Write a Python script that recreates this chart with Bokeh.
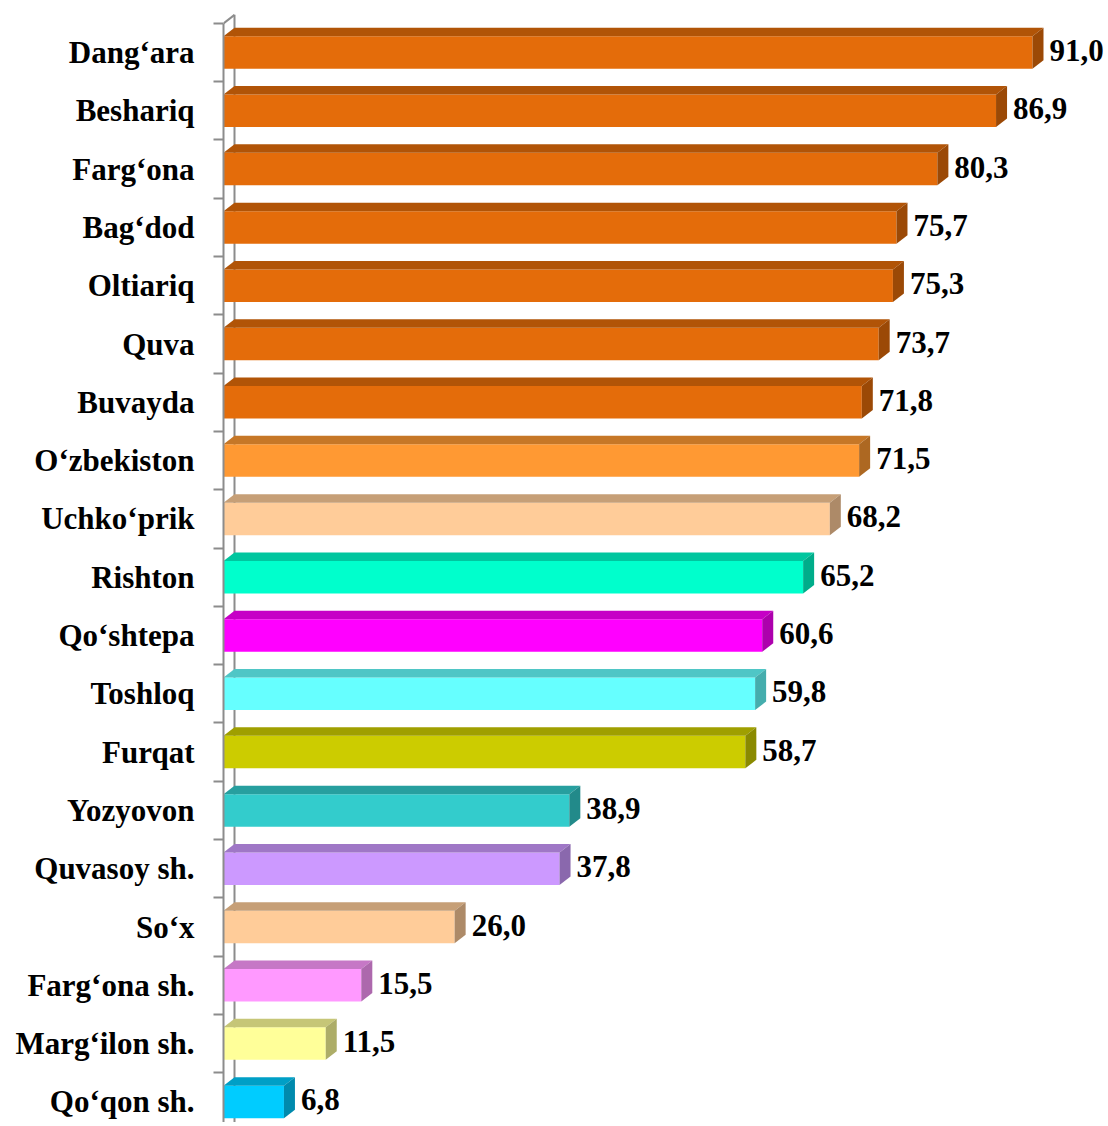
from bokeh.plotting import figure
from bokeh.models import Range1d, FixedTicker, ColumnDataSource
from bokeh.embed import file_html
from bokeh.resources import INLINE
from bokeh.core.properties import value

# ---- data ----
districts = ["Dang‘ara", "Beshariq", "Farg‘ona", "Bag‘dod", "Oltiariq", "Quva",
             "Buvayda", "O‘zbekiston", "Uchko‘prik", "Rishton", "Qo‘shtepa",
             "Toshloq", "Furqat", "Yozyovon", "Quvasoy sh.", "So‘x",
             "Farg‘ona sh.", "Marg‘ilon sh.", "Qo‘qon sh."]
values = [91.0, 86.9, 80.3, 75.7, 75.3, 73.7, 71.8, 71.5, 68.2, 65.2, 60.6,
          59.8, 58.7, 38.9, 37.8, 26.0, 15.5, 11.5, 6.8]
value_labels = ["91,0", "86,9", "80,3", "75,7", "75,3", "73,7", "71,8", "71,5",
                "68,2", "65,2", "60,6", "59,8", "58,7", "38,9", "37,8", "26,0",
                "15,5", "11,5", "6,8"]

# ---- styling ----
bar_colors = ["#E46C0A"] * 7 + ["#FF9933", "#FFCC99", "#00FFCC", "#FF00FF",
              "#66FFFF", "#CCCC00", "#33CCCC", "#CC99FF", "#FFCC99",
              "#FF99FF", "#FFFF99", "#00CCFF"]


def shade(hexc, f):
    h = hexc.lstrip("#")
    r, g, b = (int(h[i:i + 2], 16) for i in (0, 2, 4))
    return "#%02X%02X%02X" % (int(r * f), int(g * f), int(b * f))


W, H = 1106, 1122
LEFT = 223
PX_X = 8.89          # pixels per value unit
PX_Y = 58.3          # pixels per category
TOP0 = 52            # canvas y of first category centre

x_end = (W - LEFT) / PX_X
y_top = -TOP0 / PX_Y
y_bot = y_top + H / PX_Y

DX = 11 / PX_X       # 3D depth in data units
DY = 8.5 / PX_Y
BH = 32.5 / PX_Y     # bar front height

n = len(districts)
pos = list(range(n))

p = figure(width=W, height=H, output_backend="svg", toolbar_location=None,
           x_range=Range1d(0, x_end), y_range=Range1d(y_bot, y_top),
           min_border_left=LEFT, min_border_right=0, min_border_top=0,
           min_border_bottom=0, x_axis_location=None)
p.outline_line_color = None
p.xgrid.visible = False
p.ygrid.visible = False
p.background_fill_color = "white"
p.border_fill_color = "white"

axis_gray = "#8C8C8C"

# back wall line and top diagonal
p.segment(x0=[DX, 0], y0=[-0.5 - DY, -0.5], x1=[DX, DX], y1=[y_bot + 1, -0.5 - DY],
          line_color=axis_gray, line_width=2)

src = ColumnDataSource(dict(y=pos, v=values, c=bar_colors, lab=value_labels,
                            top=[shade(c, 0.78) for c in bar_colors],
                            side=[shade(c, 0.68) for c in bar_colors]))

top_xs, top_ys, side_xs, side_ys = [], [], [], []
for i, v in zip(pos, values):
    yt = i - BH / 2
    yb = i + BH / 2
    top_xs.append([0, v, v + DX, DX])
    top_ys.append([yt, yt, yt - DY, yt - DY])
    side_xs.append([v, v + DX, v + DX, v])
    side_ys.append([yt, yt - DY, yb - DY, yb])
src.data["tx"] = top_xs
src.data["ty"] = top_ys
src.data["sx"] = side_xs
src.data["sy"] = side_ys

p.hbar(y="y", left=0, right="v", height=BH, fill_color="c", line_color=None, source=src)
p.patches(xs="tx", ys="ty", fill_color="top", line_color=None, source=src)
p.patches(xs="sx", ys="sy", fill_color="side", line_color=None, source=src)

# value labels
p.text(x="v", y="y", text="lab", source=src, x_offset=17, y_offset=-2,
       text_align="left", text_baseline="middle",
       text_font=value("Liberation Serif"), text_font_style="bold",
       text_font_size="31px", text_color="black")

# category axis
ax = p.yaxis[0]
ax.ticker = FixedTicker(ticks=pos, minor_ticks=[i - 0.5 for i in range(n + 1)])
ax.major_label_overrides = {i: d for i, d in zip(pos, districts)}
ax.major_tick_line_color = None
ax.major_tick_in = 0
ax.major_tick_out = 0
ax.minor_tick_in = 0
ax.minor_tick_out = 10
ax.minor_tick_line_color = axis_gray
ax.minor_tick_line_width = 2
ax.axis_line_color = axis_gray
ax.axis_line_width = 2
ax.bounds = (-0.5, n + 0.5)
ax.major_label_standoff = 19
ax.major_label_text_font = "Liberation Serif"
ax.major_label_text_font_style = "bold"
ax.major_label_text_font_size = "31px"
ax.major_label_text_color = "black"

open("out.html", "w").write(file_html(p, INLINE))
